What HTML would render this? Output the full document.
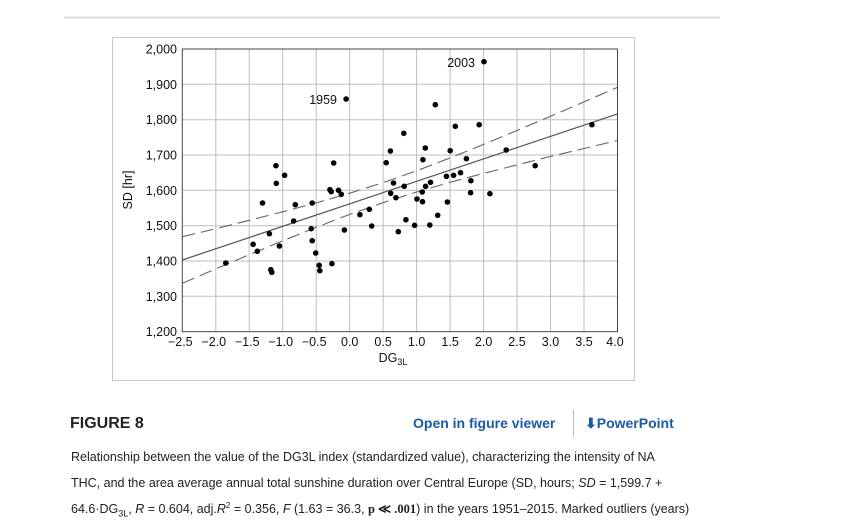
<!DOCTYPE html>
<html><head><meta charset="utf-8"><style>
body{margin:0;width:844px;height:524px;background:#fff;overflow:hidden;font-family:"Liberation Sans",sans-serif;}
.cap{position:absolute;left:71px;font-size:12.5px;color:#222;white-space:nowrap;}
</style></head><body>
<svg width="844" height="524" style="position:absolute;left:0;top:0" font-family="Liberation Sans, sans-serif">
<line x1="64" y1="17.5" x2="720" y2="17.5" stroke="#d8d8d8" stroke-width="1.5"/>
<rect x="112.5" y="37.5" width="522" height="343" fill="#fff" stroke="#c8c8c8"/>
<g stroke="#bdbdbd" stroke-width="1">
<line x1="215.8" y1="49" x2="215.8" y2="332"/><line x1="249.2" y1="49" x2="249.2" y2="332"/><line x1="282.7" y1="49" x2="282.7" y2="332"/><line x1="316.2" y1="49" x2="316.2" y2="332"/><line x1="349.7" y1="49" x2="349.7" y2="332"/><line x1="383.1" y1="49" x2="383.1" y2="332"/><line x1="416.6" y1="49" x2="416.6" y2="332"/><line x1="450.1" y1="49" x2="450.1" y2="332"/><line x1="483.6" y1="49" x2="483.6" y2="332"/><line x1="517" y1="49" x2="517" y2="332"/><line x1="550.5" y1="49" x2="550.5" y2="332"/><line x1="584" y1="49" x2="584" y2="332"/>
<line x1="182.3" y1="84.3" x2="617.5" y2="84.3"/><line x1="182.3" y1="119.7" x2="617.5" y2="119.7"/><line x1="182.3" y1="155" x2="617.5" y2="155"/><line x1="182.3" y1="190.3" x2="617.5" y2="190.3"/><line x1="182.3" y1="225.7" x2="617.5" y2="225.7"/><line x1="182.3" y1="261" x2="617.5" y2="261"/><line x1="182.3" y1="296.3" x2="617.5" y2="296.3"/>
</g>
<rect x="182.3" y="49" width="435.2" height="282.7" fill="none" stroke="#444" stroke-width="1"/>
<polyline fill="none" stroke="#555" stroke-width="1.2" points="182.3,260 617.5,113.9"/>
<polyline fill="none" stroke="#666" stroke-width="1.1" stroke-dasharray="13,6" points="182.3,236.7 215.8,228.7 249.2,220.3 282.7,211.8 316.2,202.9 349.7,193.2 383.1,182.6 416.6,170.8 450.1,157.9 483.6,144.4 517,130.5 550.5,116.3 584,101.9 617.5,87.3"/>
<polyline fill="none" stroke="#666" stroke-width="1.1" stroke-dasharray="13,6" points="182.3,283.3 215.8,268.9 249.2,254.7 282.7,240.8 316.2,227.3 349.7,214.4 383.1,202.6 416.6,192 450.1,182.3 483.6,173.4 517,164.9 550.5,156.5 584,148.5 617.5,140.5"/>
<g fill="#000">
<circle cx="484" cy="61.7" r="2.8"/><circle cx="346.1" cy="99" r="2.8"/><circle cx="225.8" cy="263" r="2.8"/><circle cx="253.1" cy="244.3" r="2.8"/><circle cx="257.3" cy="251.3" r="2.8"/><circle cx="262.5" cy="203" r="2.8"/><circle cx="269.4" cy="233.7" r="2.8"/><circle cx="270.8" cy="269.7" r="2.8"/><circle cx="271.8" cy="272.3" r="2.8"/><circle cx="276.3" cy="183.3" r="2.8"/><circle cx="279.4" cy="246" r="2.8"/><circle cx="275.9" cy="165.7" r="2.8"/><circle cx="284.6" cy="175.3" r="2.8"/><circle cx="293.6" cy="221" r="2.8"/><circle cx="295.3" cy="204.7" r="2.8"/><circle cx="311.2" cy="228.7" r="2.8"/><circle cx="312.2" cy="203" r="2.8"/><circle cx="312.2" cy="240.7" r="2.8"/><circle cx="315.7" cy="253" r="2.8"/><circle cx="319.2" cy="265.3" r="2.8"/><circle cx="319.8" cy="270.7" r="2.8"/><circle cx="331.9" cy="263.7" r="2.8"/><circle cx="329.9" cy="189.7" r="2.8"/><circle cx="331.2" cy="191.7" r="2.8"/><circle cx="333.7" cy="163" r="2.8"/><circle cx="338.5" cy="190.3" r="2.8"/><circle cx="341.3" cy="194.3" r="2.8"/><circle cx="344.4" cy="230" r="2.8"/><circle cx="359.9" cy="214.7" r="2.8"/><circle cx="369.3" cy="209.3" r="2.8"/><circle cx="371.7" cy="226" r="2.8"/><circle cx="386.2" cy="162.7" r="2.8"/><circle cx="390.4" cy="151" r="2.8"/><circle cx="390.7" cy="193.3" r="2.8"/><circle cx="393.5" cy="183" r="2.8"/><circle cx="395.9" cy="197.7" r="2.8"/><circle cx="398.3" cy="231.7" r="2.8"/><circle cx="403.8" cy="133.3" r="2.8"/><circle cx="404.2" cy="186.3" r="2.8"/><circle cx="405.9" cy="219.7" r="2.8"/><circle cx="414.6" cy="225.3" r="2.8"/><circle cx="417" cy="199" r="2.8"/><circle cx="422.2" cy="192" r="2.8"/><circle cx="422.5" cy="201.7" r="2.8"/><circle cx="422.9" cy="159.7" r="2.8"/><circle cx="425.3" cy="148" r="2.8"/><circle cx="425.6" cy="186.3" r="2.8"/><circle cx="429.8" cy="225" r="2.8"/><circle cx="430.5" cy="182.3" r="2.8"/><circle cx="435.3" cy="104.7" r="2.8"/><circle cx="437.7" cy="215.3" r="2.8"/><circle cx="446.4" cy="176.3" r="2.8"/><circle cx="447.4" cy="202" r="2.8"/><circle cx="450.2" cy="150.7" r="2.8"/><circle cx="453.6" cy="175.3" r="2.8"/><circle cx="455.3" cy="126.3" r="2.8"/><circle cx="460.5" cy="172.7" r="2.8"/><circle cx="466.4" cy="158.7" r="2.8"/><circle cx="470.9" cy="180.7" r="2.8"/><circle cx="470.6" cy="192.7" r="2.8"/><circle cx="479.2" cy="124.7" r="2.8"/><circle cx="489.9" cy="193.7" r="2.8"/><circle cx="506.2" cy="150" r="2.8"/><circle cx="535.2" cy="165.7" r="2.8"/><circle cx="591.9" cy="124.7" r="2.8"/>
</g>
<g font-size="12.5" fill="#111">
<text x="475" y="67" text-anchor="end">2003</text>
<text x="337" y="104" text-anchor="end">1959</text>
</g>
<g font-size="12.5" fill="#111" text-anchor="end">
<text x="177" y="53.5">2,000</text><text x="177" y="88.8">1,900</text><text x="177" y="124.2">1,800</text><text x="177" y="159.5">1,700</text><text x="177" y="194.8">1,600</text><text x="177" y="230.2">1,500</text><text x="177" y="265.5">1,400</text><text x="177" y="300.8">1,300</text><text x="177" y="336">1,200</text>
</g>
<g font-size="12.5" fill="#111" text-anchor="middle">
<text x="180.3" y="346">−2.5</text><text x="213.8" y="346">−2.0</text><text x="247.2" y="346">−1.5</text><text x="280.7" y="346">−1.0</text><text x="314.2" y="346">−0.5</text><text x="349.7" y="346">0.0</text><text x="383.1" y="346">0.5</text><text x="416.6" y="346">1.0</text><text x="450.1" y="346">1.5</text><text x="483.6" y="346">2.0</text><text x="517" y="346">2.5</text><text x="550.5" y="346">3.0</text><text x="584" y="346">3.5</text><text x="615" y="346">4.0</text>
<text x="393" y="362">DG<tspan font-size="9" dy="3">3L</tspan></text>
</g>
<text x="0" y="0" font-size="12.5" fill="#111" text-anchor="middle" transform="translate(132,190) rotate(-90)">SD [hr]</text>
<text x="70" y="428" font-size="16" font-weight="bold" fill="#222">FIGURE 8</text>
<text x="413" y="428" font-size="14" font-weight="bold" fill="#1a5aa6">Open in figure viewer</text>
<line x1="573.5" y1="410" x2="573.5" y2="437" stroke="#bbb"/>
<text x="585" y="428" font-size="14" font-weight="bold" fill="#1a5aa6">⬇PowerPoint</text>
</svg>
<div class="cap" style="top:450px">Relationship between the value of the DG3L index (standardized value), characterizing the intensity of NA</div>
<div class="cap" style="top:476px">THC, and the area average annual total sunshine duration over Central Europe (SD, hours; <i>SD</i> = 1,599.7 +</div>
<div class="cap" style="top:501px">64.6·DG<sub style="font-size:9px">3L</sub>, <i>R</i> = 0.604, adj.<i>R</i><sup style="font-size:8px">2</sup> = 0.356, <i>F</i> (1.63 = 36.3, <b style="font-family:'Liberation Serif',serif">p ≪ .001</b>) in the years 1951–2015. Marked outliers (years)</div>
</body></html>
